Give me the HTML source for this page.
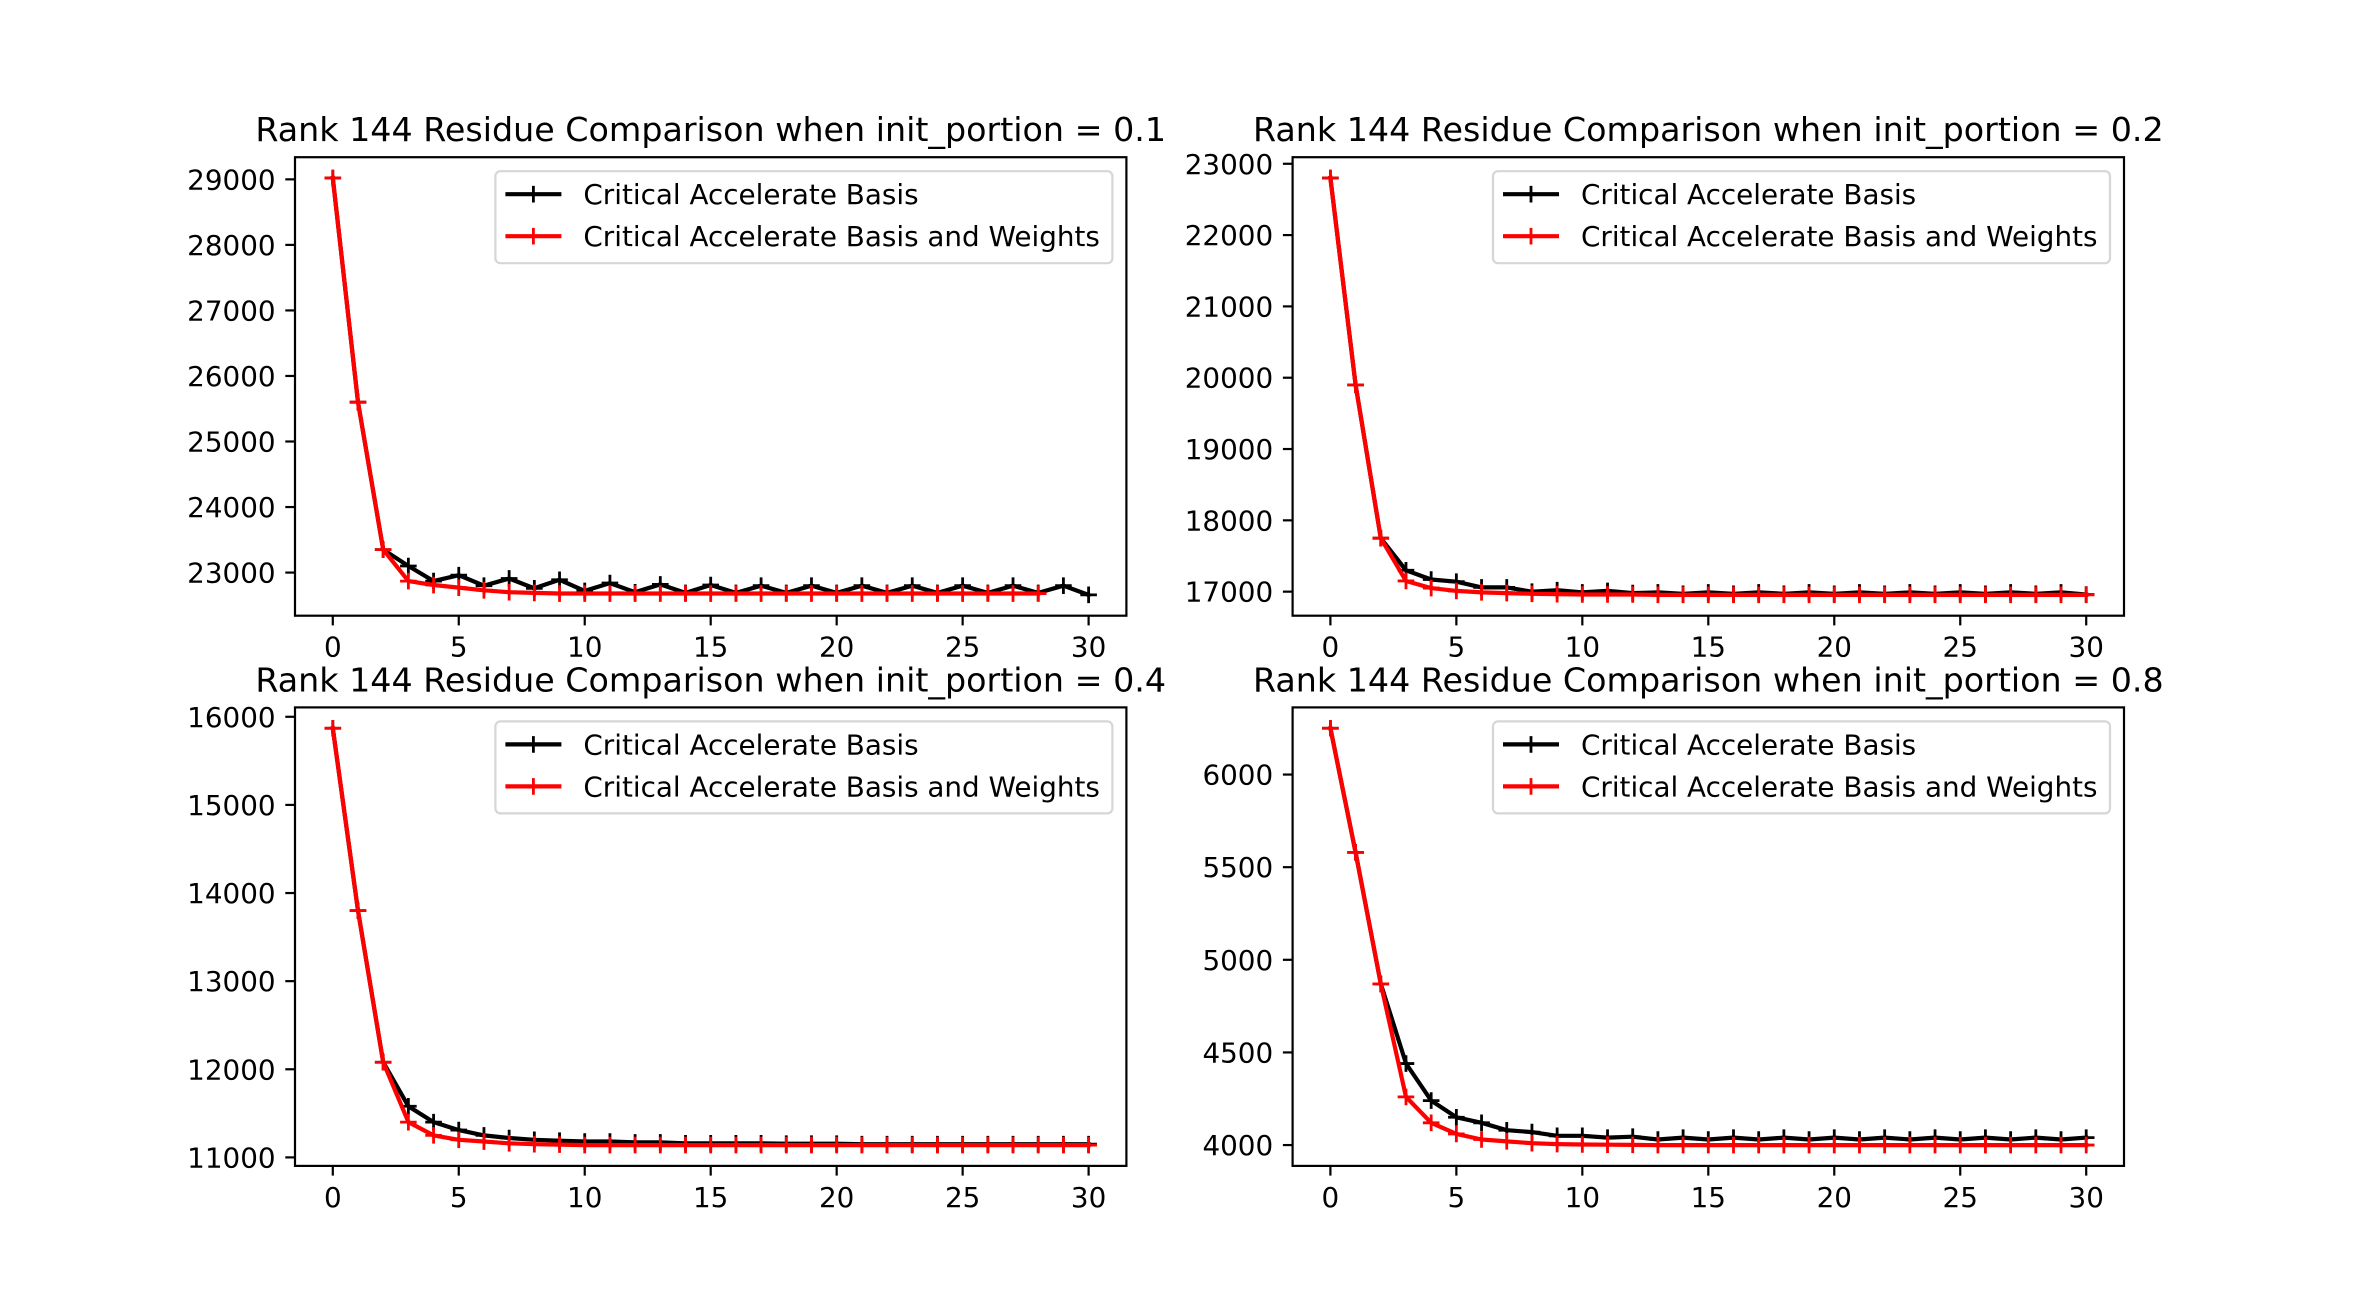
<!DOCTYPE html>
<html><head><meta charset="utf-8"><style>
html,body{margin:0;padding:0;background:#fff;}
svg{display:block;font-family:"DejaVu Sans","Liberation Sans",sans-serif;}
</style></head><body>
<svg id="fig" width="2360" height="1310" viewBox="0 0 2360 1310" xmlns="http://www.w3.org/2000/svg"></svg>
<script>
const xValues = [0,1,2,3,4,5,6,7,8,9,10,11,12,13,14,15,16,17,18,19,20,21,22,23,24,25,26,27,28,29,30];
const titles = [
 "Rank 144 Residue Comparison when init_portion = 0.1",
 "Rank 144 Residue Comparison when init_portion = 0.2",
 "Rank 144 Residue Comparison when init_portion = 0.4",
 "Rank 144 Residue Comparison when init_portion = 0.8"];
const legendLabels = ["Critical Accelerate Basis","Critical Accelerate Basis and Weights"];
const blackP1 = [29020,25600,23350,23100,22870,22960,22800,22910,22760,22890,22720,22840,22700,22820,22690,22810,22690,22800,22690,22800,22690,22800,22690,22800,22690,22800,22690,22800,22690,22800,22660];
const redP1 = [29020,25600,23350,22870,22810,22770,22730,22700,22690,22680,22680,22680,22680,22680,22680,22680,22680,22680,22680,22680,22680,22680,22680,22680,22680,22680,22680,22680,22680];
const blackP2 = [22800,19900,17750,17300,17170,17140,17060,17060,17000,17020,16990,17010,16980,16990,16970,16990,16970,16990,16970,16990,16970,16990,16970,16990,16970,16990,16970,16990,16970,16990,16960];
const redP2 = [22800,19900,17750,17150,17050,17010,16990,16980,16970,16965,16960,16960,16960,16955,16955,16955,16955,16955,16955,16955,16955,16955,16955,16955,16955,16955,16955,16955,16955,16955,16955];
const blackP4 = [15870,13800,12080,11580,11400,11310,11250,11220,11200,11190,11180,11180,11170,11170,11160,11160,11160,11160,11155,11155,11155,11150,11150,11150,11150,11150,11150,11150,11150,11150,11150];
const redP4 = [15870,13800,12080,11400,11250,11200,11180,11160,11150,11145,11140,11140,11140,11140,11140,11140,11140,11140,11140,11140,11140,11140,11140,11140,11140,11140,11140,11140,11140,11140,11140];
const blackP8 = [6250,5580,4870,4440,4240,4150,4120,4080,4070,4050,4050,4040,4045,4030,4040,4030,4040,4030,4040,4030,4040,4030,4040,4030,4040,4030,4040,4030,4040,4030,4040];
const redP8 = [6250,5580,4870,4260,4120,4060,4030,4020,4010,4005,4003,4002,4001,4000,4000,4000,4000,4000,4000,4000,4000,4000,4000,4000,4000,4000,4000,4000,4000,4000,4000];
const yTicks1 = [23000,24000,25000,26000,27000,28000,29000];
const yTicks2 = [17000,18000,19000,20000,21000,22000,23000];
const yTicks4 = [11000,12000,13000,14000,15000,16000];
const yTicks8 = [4000,4500,5000,5500,6000];
const xTicks = [0,5,10,15,20,25,30];

const NS="http://www.w3.org/2000/svg";
const svg=document.getElementById('fig');
function mk(tag,attrs,parent){const e=document.createElementNS(NS,tag);for(const k in attrs)e.setAttribute(k,attrs[k]);(parent||svg).appendChild(e);return e;}

const L=295, W=831.4, GAP=166.2, T=157.2, H=458.5, VGAP=91.7;
const panels=[
 {title:titles[0],b:blackP1,r:redP1,yt:yTicks1,col:0,row:0},
 {title:titles[1],b:blackP2,r:redP2,yt:yTicks2,col:1,row:0},
 {title:titles[2],b:blackP4,r:redP4,yt:yTicks4,col:0,row:1},
 {title:titles[3],b:blackP8,r:redP8,yt:yTicks8,col:1,row:1}];

panels.forEach((p,i)=>{
  const x0=L+p.col*(W+GAP), y0=T+p.row*(H+VGAP);
  const g=mk('g',{});
  
  
  const all=p.b.concat(p.r);
  const mn=Math.min(...all), mx=Math.max(...all), m=(mx-mn)*0.05;
  const ylo=mn-m, yhi=mx+m;
  const xlo=-1.5, xhi=31.5;
  const sx=v=>x0+(v-xlo)/(xhi-xlo)*W;
  const sy=v=>y0+H-(v-ylo)/(yhi-ylo)*H;
  const t=mk('text',{x:x0+W/2,y:y0-16,'text-anchor':'middle','font-size':33.3,fill:'#000'},g);
  t.textContent=p.title;
  
  
  [[p.b,'#000','black-series'],[p.r,'#ff0000','red-series']].forEach(([arr,c,nm])=>{
    const sg=mk('g',{},g);
    
    
    const pts=arr.map((v,k)=>sx(xValues[k]).toFixed(1)+','+sy(v).toFixed(1)).join(' ');
    mk('polyline',{points:pts,fill:'none',stroke:c,'stroke-width':4.2,'stroke-linejoin':'round','stroke-linecap':'square'},sg);
    arr.forEach((v,k)=>{
      const cx=sx(xValues[k]), cy=sy(v), s=8.3;
      const mkp=mk('path',{d:`M${cx-s},${cy}H${cx+s}M${cx},${cy-s}V${cy+s}`,stroke:c,'stroke-width':2.8,fill:'none'},sg);
      
      
    });
  });
  const fr=mk('rect',{x:x0,y:y0,width:W,height:H,fill:'none',stroke:'#000','stroke-width':2.2},g);
  
  
  xTicks.forEach(v=>{
    const x=sx(v);
    mk('line',{x1:x,x2:x,y1:y0+H,y2:y0+H+9.7,stroke:'#000','stroke-width':2.2},g);
    const tl=mk('text',{x:x,y:y0+H+41,'text-anchor':'middle','font-size':27.8,fill:'#000'},g);
    tl.textContent=v;
    
    
  });
  p.yt.forEach(v=>{
    const y=sy(v);
    mk('line',{x1:x0-9.7,x2:x0,y1:y,y2:y,stroke:'#000','stroke-width':2.2},g);
    const tl=mk('text',{x:x0-19.4,y:y+10,'text-anchor':'end','font-size':27.8,fill:'#000'},g);
    tl.textContent=v;
    
    
  });
  const lg=mk('g',{},g);
  
  
  const lw=617, lh=92, lx=x0+W-14-lw, ly=y0+14;
  mk('rect',{x:lx,y:ly,width:lw,height:lh,rx:5,fill:'#fff','fill-opacity':0.8,stroke:'#d6d6d6','stroke-width':2.2},lg);
  [['#000',legendLabels[0]],['#ff0000',legendLabels[1]]].forEach(([c,lab],k)=>{
    const cy=ly+23+k*42;
    const e=mk('g',{},lg);
    
    
    mk('line',{x1:lx+10,x2:lx+66,y1:cy,y2:cy,stroke:c,'stroke-width':4.2},e);
    mk('path',{d:`M${lx+38-8.3},${cy}H${lx+38+8.3}M${lx+38},${cy-8.3}V${cy+8.3}`,stroke:c,'stroke-width':2.8},e);
    const tx=mk('text',{x:lx+88,y:cy+10,'font-size':27.8,fill:'#000'},e);
    tx.textContent=lab;
  });
});
</script>
</body></html>
